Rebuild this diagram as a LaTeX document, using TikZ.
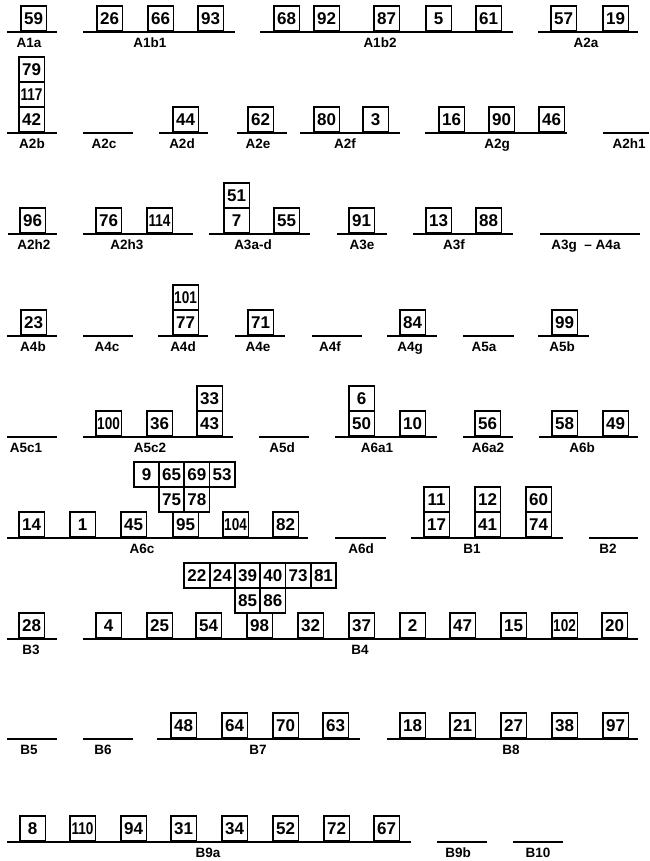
\documentclass[tikz,border=0pt]{standalone}
\usepackage{graphicx}
\usepackage{fontspec}
\setmainfont{Liberation Sans}
\tikzset{
  bx/.style={draw, line width=1.6pt, minimum width=25.5pt, minimum height=25pt, inner sep=0pt, anchor=south west, font=\fontsize{17}{17}\selectfont\bfseries},
  lbl/.style={anchor=base, inner sep=0pt, font=\fontsize{13.5}{14}\selectfont\bfseries},
  bline/.style={line width=1.7pt}
}
\newcommand\bx[3]{\node[bx] (b#3) at (#1,#2) {#3};}
\newcommand\bxw[3]{\node[bx] (b#3) at (#1,#2) {\scalebox{0.8}[1]{#3}};}
\newcommand\grp[6]{\coordinate (#1s) at (#2,#4); \coordinate (#1e) at (#3,#4); \draw[bline] (#1s) -- (#1e); \node[lbl] (#1) at (#5,#4+15.5) {#6};}
\begin{document}
\begin{tikzpicture}[x=1pt,y=-1pt]
\useasboundingbox (0,0) rectangle (649,861);
% Row 1
\grp{Aia}{7}{57}{32}{29}{A1a}
\bx{20}{32}{59}
\grp{Aibi}{83}{235}{32}{150}{A1b1}
\bx{96}{32}{26}\bx{147}{32}{66}\bx{197}{32}{93}
\grp{Aibii}{260}{513}{32}{380}{A1b2}
\bx{273}{32}{68}\bx{313}{32}{92}\bx{373}{32}{87}\bx{425}{32}{5}\bx{475}{32}{61}
\grp{Aiia}{538}{638}{32}{586}{A2a}
\bx{550}{32}{57}\bx{602}{32}{19}
% Row 2
\grp{Aiib}{7}{57}{133}{32}{A2b}
\bx{18}{133}{42}\bxw{18}{108}{117}\bx{18}{83}{79}
\grp{Aiic}{83}{133}{133}{104}{A2c}
\grp{Aiid}{159}{208}{133}{182}{A2d}
\bx{172}{133}{44}
\grp{Aiie}{237}{287}{133}{258}{A2e}
\bx{247}{133}{62}
\grp{Aiif}{300}{400}{133}{345}{A2f}
\bx{313}{133}{80}\bx{362}{133}{3}
\grp{Aiig}{425}{567}{133}{497}{A2g}
\bx{438}{133}{16}\bx{488}{133}{90}\bx{538}{133}{46}
\grp{Aiihi}{603}{649}{133}{629}{A2h1}
% Row 3
\grp{Aiihii}{8}{57}{234}{34}{A2h2}
\bx{19}{234}{96}
\grp{Aiihiii}{83}{193}{234}{127}{A2h3}
\bx{95}{234}{76}\bxw{146}{234}{114}
\grp{Aiiiad}{209}{310}{234}{253}{A3a-d}
\bx{223}{234}{7}\bx{223}{209}{51}\bx{273}{234}{55}
\grp{Aiiie}{337}{387}{234}{362}{A3e}
\bx{348}{234}{91}
\grp{Aiiif}{413}{513}{234}{454}{A3f}
\bx{425}{234}{13}\bx{475}{234}{88}
\grp{AiiigAiva}{540}{640}{234}{586}{A3g \ – A4a}
% Row 4
\grp{Aivb}{7}{57}{336}{33}{A4b}
\bx{20}{336}{23}
\grp{Aivc}{83}{133}{336}{107}{A4c}
\grp{Aivd}{158}{208}{336}{183}{A4d}
\bx{172}{336}{77}\bxw{172}{311}{101}
\grp{Aive}{235}{285}{336}{258}{A4e}
\bx{247}{336}{71}
\grp{Aivf}{312}{362}{336}{330}{A4f}
\grp{Aivg}{387}{437}{336}{410}{A4g}
\bx{399}{336}{84}
\grp{Ava}{463}{514}{336}{484}{A5a}
\grp{Avb}{538}{589}{336}{562}{A5b}
\bx{551}{336}{99}
% Row 5
\grp{Avci}{7}{57}{437}{26}{A5c1}
\grp{Avcii}{83}{233}{437}{150}{A5c2}
\bxw{95}{437}{100}\bx{146}{437}{36}\bx{196}{437}{43}\bx{196}{412}{33}
\grp{Avd}{259}{309}{437}{282}{A5d}
\grp{Aviai}{335}{437}{437}{377}{A6a1}
\bx{348}{437}{50}\bx{348}{412}{6}\bx{399}{437}{10}
\grp{Aviaii}{463}{513}{437}{488}{A6a2}
\bx{474}{437}{56}
\grp{Avib}{539}{638}{437}{582}{A6b}
\bx{551}{437}{58}\bx{602}{437}{49}
% Row 6
\grp{Avic}{7}{308}{538}{142}{A6c}
\bx{18}{538}{14}\bx{69}{538}{1}\bx{120}{538}{45}\bx{172}{538}{95}\bxw{222}{538}{104}\bx{272}{538}{82}
\bx{158}{513}{75}\bx{183.3}{513}{78}
\bx{133}{488}{9}\bx{158}{488}{65}\bx{183.3}{488}{69}\bx{208.6}{488}{53}
\grp{Avid}{335}{386}{538}{361}{A6d}
\grp{Bi}{411}{563}{538}{472}{B1}
\bx{423}{538}{17}\bx{423}{513}{11}\bx{474}{538}{41}\bx{474}{513}{12}\bx{525}{538}{74}\bx{525}{513}{60}
\grp{Bii}{589}{638}{538}{608}{B2}
% Row 7
\grp{Biii}{7}{57}{639}{31}{B3}
\bx{18}{639}{28}
\grp{Biv}{83}{638}{639}{360}{B4}
\bx{95}{639}{4}\bx{146}{639}{25}\bx{195}{639}{54}\bx{246}{639}{98}\bx{297}{639}{32}\bx{348}{639}{37}
\bx{399}{639}{2}\bx{449}{639}{47}\bx{500}{639}{15}\bxw{551}{639}{102}\bx{601}{639}{20}
\bx{234}{614}{85}\bx{259.3}{614}{86}
\bx{183.4}{589}{22}\bx{208.7}{589}{24}\bx{234}{589}{39}\bx{259.3}{589}{40}\bx{284.6}{589}{73}\bx{309.9}{589}{81}
% Row 8
\grp{Bv}{7}{57}{739}{29}{B5}
\grp{Bvi}{83}{133}{739}{103}{B6}
\grp{Bvii}{157}{360}{739}{258}{B7}
\bx{170}{739}{48}\bx{221}{739}{64}\bx{272}{739}{70}\bx{322}{739}{63}
\grp{Bviii}{387}{638}{739}{511}{B8}
\bx{399}{739}{18}\bx{449}{739}{21}\bx{500}{739}{27}\bx{551}{739}{38}\bx{602}{739}{97}
% Row 9
\grp{Bixa}{7}{411}{842}{208}{B9a}
\bx{19}{842}{8}\bxw{69}{842}{110}\bx{120}{842}{94}\bx{170}{842}{31}\bx{221}{842}{34}\bx{272}{842}{52}\bx{323}{842}{72}\bx{373}{842}{67}
\grp{Bixb}{437}{487}{842}{458}{B9b}
\grp{Bx}{513}{563}{842}{538}{B10}
\end{tikzpicture}
\end{document}
